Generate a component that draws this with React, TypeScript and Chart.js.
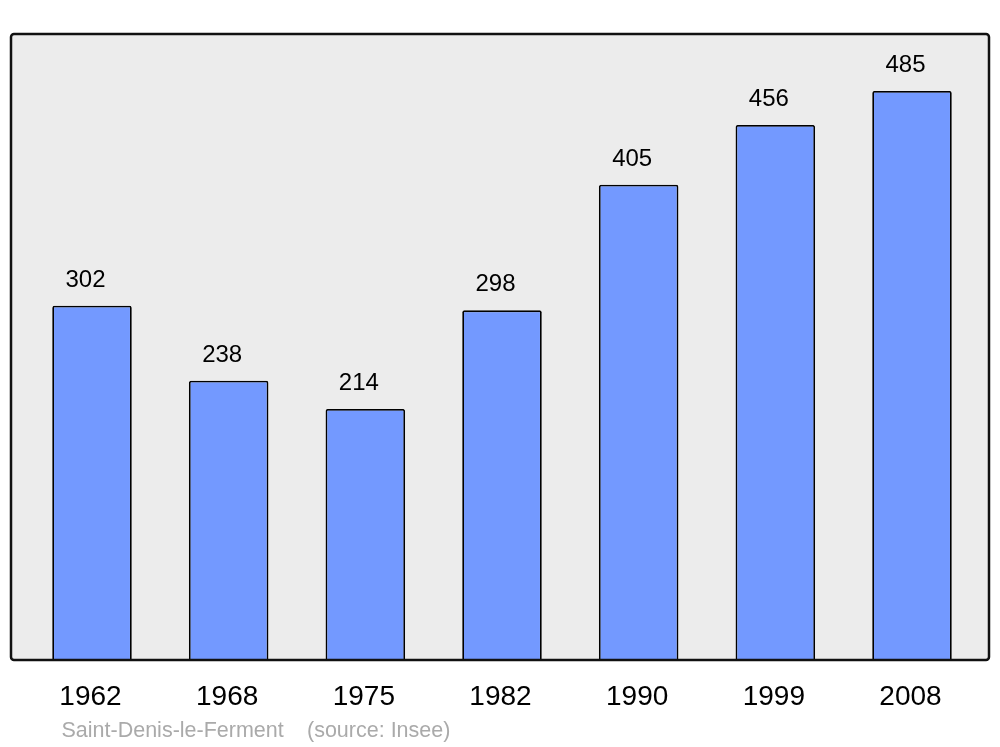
import React, { useEffect, useRef } from "react";
import { Chart, registerables } from "chart.js";

Chart.register(...registerables);

const years = ["1962", "1968", "1975", "1982", "1990", "1999", "2008"];
const population = [302, 238, 214, 298, 405, 456, 485];
const commune = "Saint-Denis-le-Ferment";
const source = "(source: Insee)";

const FONT = "'Liberation Sans', Arial, sans-serif";

export default function App() {
  const ref = useRef<HTMLCanvasElement | null>(null);

  useEffect(() => {
    const canvas = ref.current;
    if (!canvas) return;

    const framePlugin = {
      id: "frame",
      beforeDatasetsDraw(chart: any) {
        const { ctx, chartArea } = chart;
        const x0 = chartArea.left - 12.67;
        const x1 = chartArea.right + 8.67;
        const y0 = chartArea.top;
        const y1 = chartArea.bottom;
        ctx.save();
        ctx.beginPath();
        ctx.roundRect(x0, y0, x1 - x0, y1 - y0, 3);
        ctx.fillStyle = "#ececec";
        ctx.fill();
        ctx.restore();
      },
      afterDatasetsDraw(chart: any) {
        const { ctx, chartArea } = chart;
        const x0 = chartArea.left - 12.67;
        const x1 = chartArea.right + 8.67;
        const y0 = chartArea.top;
        const y1 = chartArea.bottom;
        ctx.save();
        // value labels
        const meta = chart.getDatasetMeta(0);
        ctx.fillStyle = "#000";
        ctx.font = `24px ${FONT}`;
        ctx.textAlign = "center";
        ctx.textBaseline = "middle";
        meta.data.forEach((bar: any, i: number) => {
          ctx.fillText(String(population[i]), bar.x - 6.5, bar.y - 25.5);
        });
        // frame
        ctx.beginPath();
        ctx.roundRect(x0, y0, x1 - x0, y1 - y0, 3);
        ctx.lineWidth = 2.5;
        ctx.strokeStyle = "#111";
        ctx.stroke();
        // source
        ctx.fillStyle = "#aaaaaa";
        ctx.font = `21.5px ${FONT}`;
        ctx.textAlign = "left";
        ctx.textBaseline = "middle";
        ctx.fillText(commune, 61.5, 731);
        ctx.fillText(source, 307, 731);
        ctx.restore();
      },
    };

    const chart = new Chart(canvas, {
      type: "bar",
      data: {
        labels: years,
        datasets: [
          {
            data: population,
            backgroundColor: "#7399ff",
            borderColor: "#000",
            borderWidth: 1.8,
            borderRadius: 2,
            borderSkipped: "bottom",
            categoryPercentage: 1,
            barPercentage: 0.582,
          },
        ],
      },
      options: {
        responsive: false,
        animation: false,
        layout: { padding: { left: 23.67, right: 19.67, top: 34, bottom: 0 } },
        plugins: { legend: { display: false }, tooltip: { enabled: false } },
        scales: {
          x: {
            grid: { display: false, drawTicks: false },
            border: { display: false },
            ticks: {
              color: "#000",
              font: { family: FONT, size: 28 },
              padding: 20,
              labelOffset: -1.5,
              maxRotation: 0,
            },
            afterFit(scale: any) {
              scale.height = 87;
            },
          },
          y: {
            display: false,
            min: 0,
            max: 533.5,
          },
        },
      },
      plugins: [framePlugin],
    });

    return () => chart.destroy();
  }, []);

  return (
    <div style={{ position: "fixed", left: 0, top: 0, width: 1000, height: 747, background: "#fff" }}>
      <canvas ref={ref} width={1000} height={747} style={{ display: "block" }} />
    </div>
  );
}
